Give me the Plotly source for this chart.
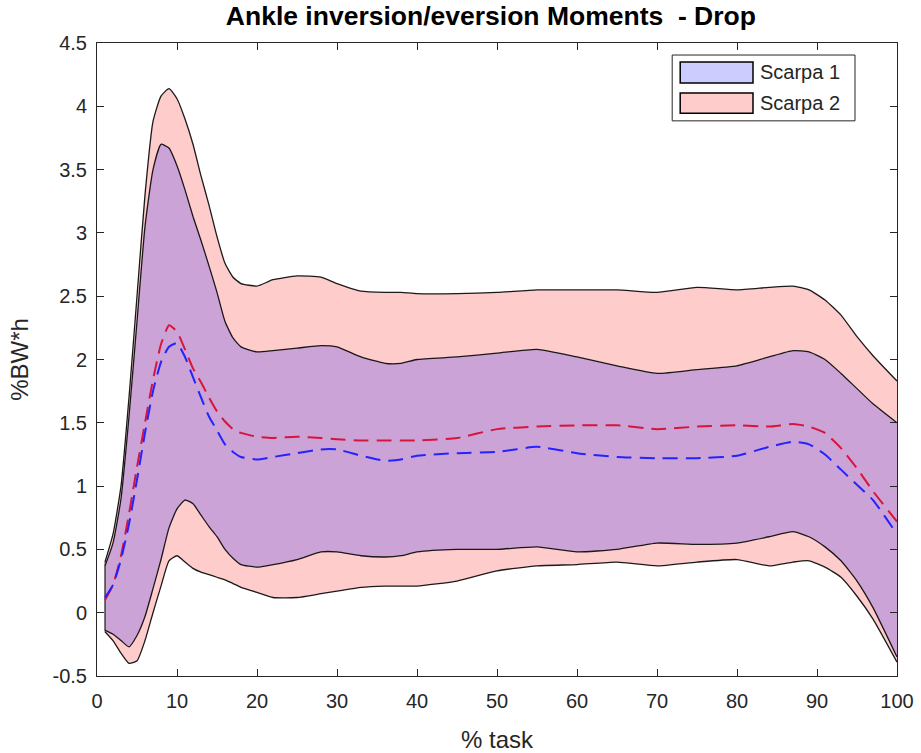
import plotly.graph_objects as go

# ---------------- data ----------------
x = [1, 2, 3, 4, 5, 6, 7, 8, 9, 10, 11, 12, 13, 14, 15, 16, 17, 18, 20, 22, 25, 28,
     30, 33, 36, 38, 40, 45, 50, 55, 60, 65, 70, 75, 80, 84, 87, 89, 91, 93, 95, 97, 100]

# Scarpa 2 band (red)
s2_hi = [0.40, 0.62, 1.00, 1.70, 2.50, 3.30, 3.88, 4.08, 4.14, 4.06, 3.90, 3.70, 3.45, 3.22,
         2.97, 2.76, 2.65, 2.60, 2.58, 2.63, 2.66, 2.65, 2.60, 2.54, 2.53, 2.53, 2.52, 2.52,
         2.53, 2.55, 2.55, 2.55, 2.53, 2.57, 2.55, 2.57, 2.58, 2.55, 2.47, 2.35, 2.18, 2.03, 1.83]
s2_lo = [-0.15, -0.22, -0.32, -0.40, -0.38, -0.22, 0.00, 0.21, 0.41, 0.45, 0.40, 0.35, 0.32,
         0.30, 0.28, 0.26, 0.23, 0.20, 0.16, 0.12, 0.12, 0.15, 0.17, 0.20, 0.21, 0.21, 0.21,
         0.25, 0.33, 0.37, 0.38, 0.40, 0.37, 0.40, 0.42, 0.37, 0.40, 0.41, 0.36, 0.28, 0.13,
         -0.05, -0.39]
s2_mean = [0.10, 0.22, 0.45, 0.78, 1.15, 1.50, 1.84, 2.12, 2.27, 2.22, 2.08, 1.93, 1.82, 1.70,
           1.59, 1.51, 1.45, 1.42, 1.39, 1.38, 1.39, 1.38, 1.37, 1.36, 1.36, 1.36, 1.36, 1.38,
           1.45, 1.47, 1.48, 1.48, 1.45, 1.47, 1.48, 1.47, 1.49, 1.47, 1.42, 1.30, 1.14, 0.96, 0.72]

# Scarpa 1 band (blue)
s1_hi = [0.37, 0.55, 0.90, 1.55, 2.30, 3.05, 3.50, 3.70, 3.67, 3.53, 3.34, 3.13, 2.94, 2.74,
         2.53, 2.30, 2.17, 2.10, 2.06, 2.07, 2.09, 2.11, 2.10, 2.02, 1.97, 1.97, 2.00, 2.02,
         2.05, 2.08, 2.02, 1.95, 1.89, 1.92, 1.95, 2.02, 2.07, 2.06, 2.00, 1.89, 1.77, 1.65, 1.50]
s1_lo = [-0.14, -0.17, -0.22, -0.27, -0.18, -0.03, 0.19, 0.42, 0.67, 0.82, 0.89, 0.86, 0.77,
         0.68, 0.60, 0.50, 0.43, 0.38, 0.36, 0.38, 0.42, 0.48, 0.48, 0.45, 0.44, 0.45, 0.48,
         0.50, 0.50, 0.52, 0.48, 0.50, 0.55, 0.54, 0.55, 0.60, 0.64, 0.60, 0.52, 0.41, 0.25,
         0.04, -0.35]
s1_mean = [0.12, 0.22, 0.42, 0.70, 1.05, 1.42, 1.75, 1.98, 2.10, 2.13, 2.02, 1.86, 1.70, 1.55,
           1.44, 1.33, 1.27, 1.23, 1.21, 1.23, 1.26, 1.29, 1.29, 1.24, 1.20, 1.21, 1.24, 1.26,
           1.27, 1.31, 1.26, 1.23, 1.22, 1.22, 1.24, 1.31, 1.35, 1.33, 1.25, 1.13, 1.01, 0.89, 0.62]

series_names = ["Scarpa 1", "Scarpa 2"]
y_ticks = [-0.5, 0, 0.5, 1, 1.5, 2, 2.5, 3, 3.5, 4, 4.5]
y_tick_labels = ["-0.5", "0", "0.5", "1", "1.5", "2", "2.5", "3", "3.5", "4", "4.5"]
x_ticks = [0, 10, 20, 30, 40, 50, 60, 70, 80, 90, 100]

# ---------------- styles ----------------
FONT = "Liberation Sans, Arial, sans-serif"
AX = "#262626"
RED_FILL = "rgba(255,0,0,0.2)"
BLUE_FILL = "rgba(0,0,255,0.2)"
EDGE = dict(color="rgba(15,15,15,0.95)", width=1.3, shape="spline", smoothing=0.5)

fig = go.Figure()


def add_band(lo, hi, fillcol):
    fig.add_trace(go.Scatter(x=x, y=lo, mode="lines", line=EDGE,
                             showlegend=False, hoverinfo="skip"))
    fig.add_trace(go.Scatter(x=x, y=hi, mode="lines", line=EDGE, fill="tonexty",
                             fillcolor=fillcol, showlegend=False, hoverinfo="skip"))
    fig.add_trace(go.Scatter(x=[x[0], x[0]], y=[hi[0], lo[0]], mode="lines",
                             line=dict(color="rgba(20,20,20,0.7)", width=1),
                             showlegend=False, hoverinfo="skip"))


add_band(s2_lo, s2_hi, RED_FILL)
add_band(s1_lo, s1_hi, BLUE_FILL)

fig.add_trace(go.Scatter(x=x, y=s2_mean, mode="lines",
                         line=dict(color="rgb(215,20,60)", width=2, dash="15px,8px",
                                   shape="spline", smoothing=0.5),
                         showlegend=False, hoverinfo="skip"))
fig.add_trace(go.Scatter(x=x, y=s1_mean, mode="lines",
                         line=dict(color="rgb(35,35,255)", width=2, dash="15px,8px",
                                   shape="spline", smoothing=0.5),
                         showlegend=False, hoverinfo="skip"))

# ---------------- custom MATLAB-style legend ----------------
shapes = [
    dict(type="rect", xref="paper", yref="paper", x0=0.719, x1=0.9475, y0=0.877, y1=0.981,
         line=dict(color=AX, width=1), fillcolor="white", layer="above"),
    dict(type="rect", xref="paper", yref="paper", x0=0.729, x1=0.82, y0=0.937, y1=0.970,
         line=dict(color="black", width=1.5), fillcolor=BLUE_FILL, layer="above"),
    dict(type="rect", xref="paper", yref="paper", x0=0.729, x1=0.82, y0=0.889, y1=0.921,
         line=dict(color="black", width=1.5), fillcolor=RED_FILL, layer="above"),
]
annotations = [
    dict(xref="paper", yref="paper", x=0.826, y=0.954, text=series_names[0], showarrow=False,
         xanchor="left", yanchor="middle", font=dict(family=FONT, size=20, color=AX)),
    dict(xref="paper", yref="paper", x=0.826, y=0.906, text=series_names[1], showarrow=False,
         xanchor="left", yanchor="middle", font=dict(family=FONT, size=20, color=AX)),
]

fig.update_layout(
    width=921, height=753,
    margin=dict(l=97, r=24, t=43, b=77, autoexpand=False),
    paper_bgcolor="white", plot_bgcolor="white",
    showlegend=False,
    font=dict(family=FONT, size=20, color=AX),
    title=dict(text="<b>Ankle inversion/eversion Moments\u00a0 - Drop</b>",
               x=0.533, xanchor="center", y=0.979, yanchor="middle",
               font=dict(family=FONT, size=26.5, color="black")),
    shapes=shapes,
    annotations=annotations,
)
fig.update_xaxes(range=[0, 100], tickvals=x_ticks, ticks="inside", ticklen=7, tickwidth=1,
                 tickcolor=AX, showline=True, linecolor=AX, linewidth=1, mirror="ticks",
                 showgrid=False, zeroline=False, ticklabelstandoff=7, automargin=False,
                 tickfont=dict(family=FONT, size=20, color=AX),
                 title=dict(text="% task", font=dict(family=FONT, size=24, color=AX), standoff=20))
fig.update_yaxes(range=[-0.5, 4.5], tickvals=y_ticks, ticktext=y_tick_labels, ticks="inside",
                 ticklen=7, tickwidth=1, tickcolor=AX, showline=True, linecolor=AX, linewidth=1,
                 mirror="ticks", showgrid=False, zeroline=False, ticklabelstandoff=5,
                 automargin=False,
                 tickfont=dict(family=FONT, size=20, color=AX),
                 title=dict(text="%BW*h", font=dict(family=FONT, size=24, color=AX), standoff=17))

fig.write_html("out.html")
